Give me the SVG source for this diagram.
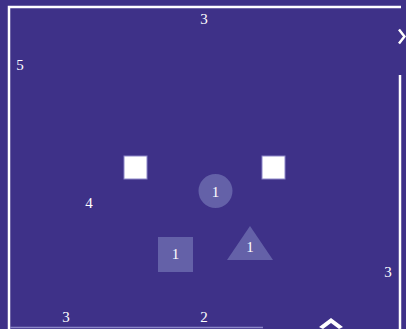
<svg xmlns="http://www.w3.org/2000/svg" width="406" height="329" viewBox="0 0 406 329">
<style>
.lbl{font-family:"Liberation Serif","Times New Roman",serif;font-size:15px;fill:#ffffff;text-anchor:middle}
.edge{fill:none;stroke:#ffffff;stroke-width:2.5}
.shape{fill:#6461a8}
.white{fill:#ffffff;stroke:#8c86c8;stroke-width:1}
</style>
<rect width="406" height="329" fill="#3e3188"/>
<g id="connectors">
<polyline class="edge" points="9,329 9,7 401,7"/>
<line class="edge" stroke-width="2" x1="400" y1="75" x2="400" y2="329"/>
<line x1="10" y1="327.5" x2="263" y2="327.5" stroke="#8c86c8" stroke-width="1.5"/>
<polyline class="edge" stroke-width="2.5" points="399,29.5 404.5,36.5 399,43.5"/>
<path d="M319,327 L331,318 L343,327 L339,329 L331,323 L323,329 Z" fill="#ffffff"/>
</g>
<g id="labels">
<text class="lbl" x="204" y="24">3</text>
<text class="lbl" x="20" y="70">5</text>
<text class="lbl" x="89" y="208">4</text>
<text class="lbl" x="388" y="277">3</text>
<text class="lbl" x="66" y="322">3</text>
<text class="lbl" x="204" y="322">2</text>
</g>
<g id="square-left"><rect class="white" x="124" y="156" width="23" height="23"/></g>
<g id="square-right"><rect class="white" x="262" y="156" width="23" height="23"/></g>
<g id="circle1"><circle class="shape" cx="215.5" cy="191" r="17"/><text class="lbl" x="215.5" y="197">1</text></g>
<g id="square1"><rect class="shape" x="158" y="237" width="35" height="35"/><text class="lbl" x="175.5" y="259">1</text></g>
<g id="triangle1"><polygon class="shape" points="250,226 273,260 227,260"/><text class="lbl" x="250" y="252">1</text></g>
</svg>
